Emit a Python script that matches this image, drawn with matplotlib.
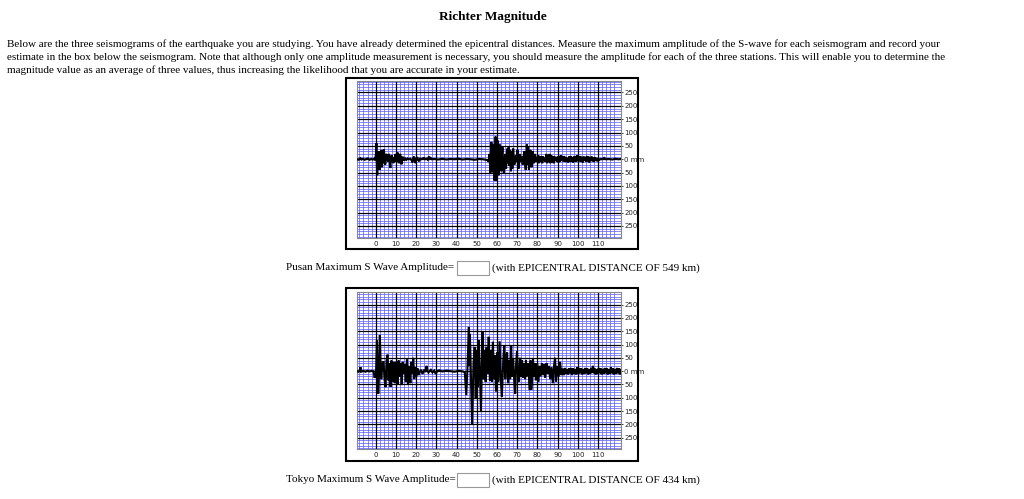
import numpy as np
import matplotlib
matplotlib.use('Agg')
import matplotlib.pyplot as plt
from matplotlib.patches import Rectangle
from matplotlib.ticker import FixedLocator

# Page text
TITLE = 'Richter Magnitude'
PARAGRAPH = [
    'Below are the three seismograms of the earthquake you are studying. You have already determined the epicentral distances. '
    'Measure the maximum amplitude of the S-wave for each seismogram and record your',
    'estimate in the box below the seismogram. Note that although only one amplitude measurement is necessary, you should '
    'measure the amplitude for each of the three stations. This will enable you to determine the',
    'magnitude value as an average of three values, thus increasing the likelihood that you are accurate in your estimate.',
]
stations  = ['Pusan', 'Tokyo']
distances = [549, 434]

x_ticks = list(range(0, 120, 10))
y_ticks = [250, 200, 150, 100, 50, 0, -50, -100, -150, -200, -250]
y_labels = ['250', '200', '150', '100', '50', '0 mm', '50', '100', '150', '200', '250']

# Pusan trace (time, amplitude in mm)
pusan_t = [-9.2, -8.4, -7.6, -7.0, -6.2, -5.4, -4.6, -3.8, -3.0, -2.2,
           -1.4, -0.6, -0.2, 0.2, 0.4, 0.6, 0.8, 1.0, 1.2, 1.4,
           1.6, 1.8, 2.0, 2.2, 2.4, 2.6, 2.8, 3.0, 3.2, 3.4,
           3.6, 3.8, 4.1, 4.4, 4.7, 4.9, 5.2, 5.5, 5.8, 6.1,
           6.3, 6.6, 6.8, 7.1, 7.3, 7.6, 7.9, 8.1, 8.4, 8.8,
           9.1, 9.4, 9.8, 10.1, 10.4, 10.7, 10.9, 11.2, 11.5, 11.7,
           12.0, 12.2, 12.5, 12.8, 13.1, 13.3, 13.7, 14.1, 14.6, 15.2,
           15.8, 16.5, 17.2, 17.8, 18.2, 18.6, 19.0, 19.4, 19.8, 20.2,
           20.7, 21.1, 21.5, 22.0, 22.6, 23.3, 23.9, 24.5, 25.2, 25.8,
           26.3, 26.7, 27.2, 27.8, 29.0, 31.0, 33.0, 35.0, 37.0, 39.0,
           41.0, 43.0, 45.0, 47.0, 49.0, 51.0, 53.0, 54.5, 55.5, 55.9,
           56.3, 56.7, 57.0, 57.2, 57.5, 57.8, 58.0, 58.3, 58.6, 58.8,
           59.1, 59.3, 59.6, 59.8, 60.0, 60.3, 60.6, 60.8, 61.1, 61.4,
           61.8, 62.1, 62.4, 62.7, 63.0, 63.4, 63.8, 64.1, 64.5, 64.8,
           65.2, 65.5, 65.8, 66.1, 66.5, 66.9, 67.3, 67.6, 68.0, 68.3,
           68.6, 69.0, 69.4, 69.8, 70.1, 70.4, 70.8, 71.1, 71.4, 71.8,
           72.1, 72.4, 72.7, 73.1, 73.5, 73.8, 74.2, 74.5, 74.8, 75.1,
           75.4, 75.8, 76.1, 76.5, 76.8, 77.1, 77.4, 77.6, 78.0, 78.3,
           78.8, 79.2, 79.6, 80.0, 80.4, 80.8, 81.2, 81.6, 82.0, 82.4,
           82.8, 83.2, 83.6, 84.0, 84.4, 84.8, 85.2, 85.6, 86.0, 86.4,
           86.8, 87.2, 87.6, 88.0, 88.4, 88.8, 89.2, 89.6, 90.0, 90.4,
           90.8, 91.2, 91.6, 92.0, 92.4, 92.8, 93.2, 93.6, 94.0, 94.4,
           94.8, 95.2, 95.6, 96.0, 96.4, 96.8, 97.2, 97.6, 98.0, 98.4,
           98.8, 99.2, 99.6, 100.0, 100.4, 100.8, 101.2, 101.6, 102.0, 102.4,
           102.8, 103.2, 103.6, 104.0, 104.4, 104.8, 105.2, 105.6, 106.0, 106.4,
           106.8, 107.2, 107.6, 108.0, 108.4, 108.8, 109.2, 109.6, 110.0, 110.5,
           111.2, 112.0, 113.0, 113.5, 114.0, 115.5, 117.0, 118.5, 120.0, 121.3]
pusan_amp = [0, -2, 4, -1, 2, -2, 1, 3, -2, 1,
             -1, 2, -4, 25, 60, -20, -60, 10, -30, 25,
             30, -20, -40, 10, 20, -25, 35, -10, -30, 15,
             -15, 20, 37, 10, -20, -15, 15, 20, -5, 10,
             -10, 20, 15, -20, -33, 5, 12, 15, -5, -15,
             8, -8, 20, 5, -10, 15, 25, 0, -15, -10,
             15, 20, -5, -19, 0, 10, 2, -5, 3, -2,
             3, 0, 2, -4, -12, 5, 10, -5, -15, 3,
             5, -3, -8, 2, 0, 3, 5, 0, 2, -2,
             10, 2, 5, 0, 1, -1, 2, -1, 1, 0,
             2, -1, 1, 0, -2, 1, 0, -2, -4, -10,
             20, -50, 30, 65, 10, -50, -10, 55, 10, -80,
             20, 85, -20, -80, 10, 70, 0, -60, 15, 55,
             -5, -45, 10, 45, -10, -55, 0, 20, -35, 10,
             40, -15, 48, -25, 35, -45, 30, -35, 40, 5,
             -20, 5, 15, -10, 35, -30, -35, 5, 20, -5,
             -10, 10, -20, 5, 30, -10, -40, 10, 55, -20,
             45, -40, 10, 35, -10, -30, 10, 30, 0, -15,
             20, 0, -10, 5, 15, -15, 10, -10, 12, -15,
             10, -5, 5, -10, 20, -15, 15, -10, 20, -15,
             15, -10, 10, -15, 10, -5, 8, -10, 10, -12,
             12, -10, 15, -5, 10, -8, 12, -10, 8, -10,
             5, -12, 10, -8, 12, -10, 8, -12, 10, -8,
             12, -10, 15, -5, 10, -8, 12, -10, 8, -12,
             10, -5, 8, -10, 12, -8, 10, -12, 8, -6,
             10, -8, 6, -10, 8, -5, 5, -8, 3, -3,
             1, 0, 5, 1, 0, 1, -1, 2, 0, 1]

# Tokyo trace
tokyo_t = [-9.2, -8.5, -7.8, -7.5, -7.2, -6.0, -5.0, -4.0, -3.0, -2.0,
           -1.0, -0.5, 0.2, 0.65, 1.0, 1.3, 1.7, 2.1, 2.5, 2.8,
           3.1, 3.4, 3.9, 4.4, 4.9, 5.4, 5.9, 6.4, 6.9, 7.4,
           7.8, 8.5, 9.0, 9.5, 10.0, 10.5, 10.9, 11.4, 11.9, 12.4,
           12.9, 13.4, 13.9, 14.4, 14.9, 15.5, 16.0, 16.5, 17.2, 17.6,
           18.1, 18.6, 19.1, 19.6, 20.1, 20.8, 21.2, 21.6, 22.4, 23.2,
           24.0, 24.6, 25.2, 25.6, 26.1, 27.3, 28.1, 29.0, 29.7, 30.5,
           31.4, 33.0, 35.0, 37.0, 39.0, 41.0, 42.5, 43.5, 44.1, 44.8,
           45.4, 46.1, 46.3, 46.6, 47.2, 47.7, 48.4, 49.0, 49.5, 50.0,
           50.5, 51.0, 51.6, 52.1, 52.8, 53.4, 53.9, 54.4, 54.9, 55.4,
           55.9, 56.5, 57.0, 57.5, 58.0, 58.5, 59.0, 59.5, 60.1, 60.6,
           61.3, 61.8, 62.4, 63.1, 63.6, 64.1, 64.5, 65.0, 65.5, 66.0,
           66.5, 67.0, 67.5, 68.0, 68.5, 69.0, 69.4, 69.9, 70.4, 70.9,
           71.4, 71.9, 72.4, 72.9, 73.4, 73.9, 74.3, 74.8, 75.5, 76.1,
           76.6, 77.1, 77.8, 78.3, 78.8, 79.2, 79.9, 80.4, 81.0, 81.5,
           82.2, 82.7, 83.3, 83.8, 84.5, 85.0, 85.6, 86.3, 86.9, 87.6,
           88.2, 88.7, 89.2, 89.9, 90.5, 91.2, 91.8, 92.5, 93.1, 93.6,
           94.1, 94.6, 95.1, 95.6, 96.1, 96.6, 97.1, 97.6, 98.1, 98.6,
           99.1, 99.6, 100.1, 100.6, 101.1, 101.6, 102.1, 102.6, 103.1, 103.6,
           104.1, 104.6, 105.1, 105.6, 106.1, 106.6, 107.1, 107.4, 107.8, 108.3,
           108.8, 109.3, 109.8, 110.3, 110.8, 111.3, 111.8, 112.3, 112.8, 113.3,
           113.8, 114.3, 114.8, 115.3, 115.8, 116.3, 116.8, 117.3, 117.8, 118.3,
           118.8, 119.3, 119.8, 120.3, 120.8, 121.3]
tokyo_amp = [0, -2, 3, 15, -2, 1, -2, 2, -1, 1,
             0, -25, -10, 116, 10, -85, -10, 135, 20, -30,
             5, 30, 37, -30, -60, 40, 62, -35, 30, -59,
             40, -40, 35, -45, 30, 35, -50, 40, -20, 30,
             -52, 35, -10, 25, -40, 45, -50, 20, -45, 35,
             -10, 50, -30, 15, -20, 10, -15, -5, 5, -10,
             5, -3, 20, 2, -5, 5, -5, 2, -10, 0,
             3, -1, 2, 0, -2, 1, 0, -2, -5, -90,
             10, 166, 20, 140, -40, -200, 30, 91, -100, 80,
             -60, 116, -20, -150, 150, -30, 80, -40, 91, -10,
             129, -35, 80, -40, 110, -30, 60, -77, 70, -40,
             112, -20, -96, 40, 97, -30, 55, 70, -45, 40,
             -30, 95, -20, 45, -30, -84, 20, 75, -20, -40,
             50, -20, 40, -25, 30, -30, 40, -20, 30, -71,
             40, -70, 45, -20, 30, -35, 30, -40, 20, -20,
             30, -15, 25, -25, 30, -10, 20, -30, 15, -45,
             20, 50, -40, 20, -20, 35, -15, 10, -15, 12,
             -10, 8, -12, 10, -8, 12, -15, 10, -10, 8,
             -12, 15, -10, 12, -8, 10, -12, 8, -10, 12,
             -8, 10, -12, 8, -10, 12, -5, 20, -8, 10,
             -12, 8, -10, 12, -8, 10, -12, 8, -10, 12,
             -8, 10, -12, 8, -10, 15, -8, 10, -12, 8,
             -10, 12, -8, 10, -12, 5]

traces = [(pusan_t, pusan_amp), (tokyo_t, tokyo_amp)]

W, H = 1024, 499
SERIF = 'Liberation Serif'

def fx(x):
    return x / W

def fy(y):
    return 1 - y / H

fig = plt.figure(figsize=(W / 100, H / 100), dpi=100)
fig.patch.set_facecolor('white')

fig.text(fx(493), fy(17), TITLE, ha='center', va='center', fontsize=9.5,
         fontweight='bold', family=SERIF)
for i, line in enumerate(PARAGRAPH):
    fig.text(fx(7), fy(44 + 13 * i), line, ha='left', va='center',
             fontsize=8, family=SERIF)

# grid spacing: black every 10 s / 50 mm, blue in between
x_minor = [v for v in range(-8, 122, 2) if v % 10 != 0]
y_minor = [v for v in range(-290, 300, 10) if v % 50 != 0]

# (box top, inner top, inner bottom, box bottom, caption y, ylim)
layouts = [(78, 81, 238, 249, 268, (-295, 293)),
           (288, 292, 449, 461, 480, (-292, 297))]

for k, (tr_t, tr_a) in enumerate(traces):
    box_top, in_top, in_bot, box_bot, cap_y, ylim = layouts[k]
    fig.patches.append(Rectangle((fx(346), fy(box_bot)), (638 - 346) / W,
                                 (box_bot - box_top) / H, transform=fig.transFigure,
                                 fill=False, ec='black', lw=1.5, zorder=5))
    ax = fig.add_axes([fx(357), fy(in_bot), (621 - 357) / W, (in_bot - in_top) / H])
    ax.set_xlim(-9.2, 121.3)
    ax.set_ylim(*ylim)
    ax.set_xticks(x_ticks)
    ax.set_xticklabels([str(v) for v in x_ticks])
    ax.set_yticks(y_ticks)
    ax.set_yticklabels(y_labels)
    ax.xaxis.set_minor_locator(FixedLocator(x_minor))
    ax.yaxis.set_minor_locator(FixedLocator(y_minor))
    ax.yaxis.tick_right()
    ax.tick_params(axis='x', which='major', labelsize=5, length=0, pad=2.5,
                   colors='#222222')
    ax.tick_params(axis='y', which='major', labelsize=5, length=1.5, width=0.6,
                   pad=0.8, colors='#222222')
    ax.tick_params(which='minor', length=0)
    ax.grid(which='minor', color='#5c5cff', lw=0.6, alpha=0.85)
    ax.set_axisbelow(True)
    # black major lines on top of the blue mesh
    for v in x_ticks:
        ax.axvline(v, color='black', lw=0.9, zorder=1)
    for v in y_ticks:
        ax.axhline(v, color='black', lw=0.9, zorder=1)
    for s in ax.spines.values():
        s.set_color('#888888')
        s.set_linewidth(0.8)
    ax.plot(tr_t, tr_a, color='black', lw=1.5, solid_joinstyle='miter', zorder=3)

    fig.text(fx(286), fy(cap_y), f'{stations[k]} Maximum S Wave Amplitude=',
             ha='left', va='center', fontsize=8, family=SERIF)
    fig.patches.append(Rectangle((fx(457), fy(cap_y + 7)), 32 / W, 14 / H,
                                 transform=fig.transFigure, fill=False,
                                 ec='#999999', lw=0.8))
    fig.text(fx(492), fy(cap_y), f'(with EPICENTRAL DISTANCE OF {distances[k]} km)',
             ha='left', va='center', fontsize=8, family=SERIF)

fig.savefig('out.png', dpi=100, facecolor='white')
